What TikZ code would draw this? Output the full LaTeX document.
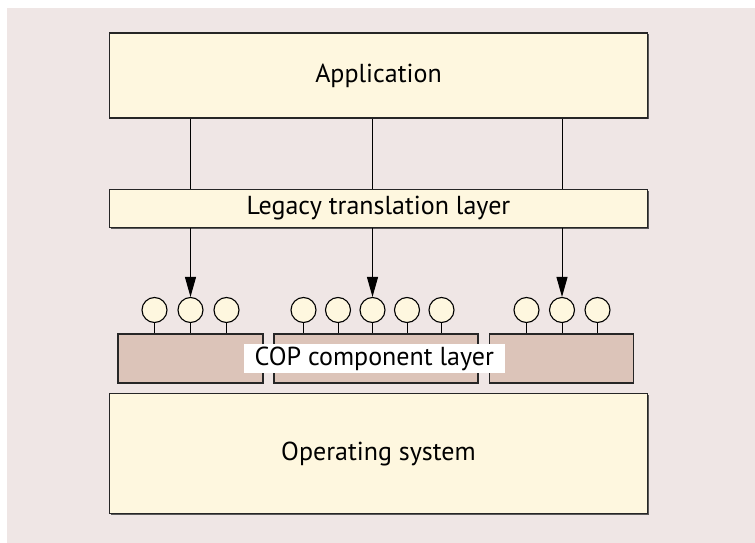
\documentclass[tikz,border=0pt]{standalone}
\usepackage{fontspec}
\setmainfont{PT Sans}
\usetikzlibrary{arrows.meta,shadows}
\definecolor{bgpink}{HTML}{EFE6E5}
\definecolor{boxyellow}{HTML}{FEF7DF}
\definecolor{copbrown}{HTML}{DCC4B9}
\tikzset{
  layer/.style={draw=black!85,line width=1.2pt,fill=boxyellow,inner sep=0pt,
    drop shadow={shadow xshift=1pt,shadow yshift=-1pt,fill=black!65,opacity=1},
    font=\fontsize{26}{30}\selectfont},
  copbox/.style={draw=black!85,line width=1.2pt,fill=copbrown,inner sep=0pt},
  iface/.style={circle,draw=black,line width=1.1pt,fill=boxyellow,minimum size=25pt,inner sep=0pt},
  link/.style={line width=1pt}
}
\begin{document}
\begin{tikzpicture}[x=1pt,y=-1pt]
  % Hintergrund
  \useasboundingbox (0,0) rectangle (755,543);
  \fill[white] (0,0) rectangle (755,543);
  \fill[bgpink] (7,8) rectangle (755,543);
  % Schichten
  \node[layer,minimum width=538pt,minimum height=85pt] (app) at (378.5,75.5) {Application};
  \node[layer,minimum width=538pt,minimum height=38pt] (legacy) at (378.5,208.5) {Legacy translation layer};
  \node[layer,minimum width=538pt,minimum height=120pt] (os) at (378.5,453.5) {Operating system};
  % Komponenten
  \node[copbox,minimum width=145pt,minimum height=49pt] (cop1) at (190.5,358.5) {};
  \node[copbox,minimum width=204pt,minimum height=49pt] (cop2) at (376,358.5) {};
  \node[copbox,minimum width=144pt,minimum height=49pt] (cop3) at (561.5,358.5) {};
  \node[fill=white,minimum width=261pt,minimum height=29.5pt,inner sep=0pt,
    font=\fontsize{26}{30}\selectfont] (coplabel) at (374.3,358.7) {COP component layer};
  % Schnittstellen
  \foreach \x [count=\i] in {154.5,190.5,226.5} {
    \node[iface] (a\i) at (\x,310) {};
    \draw[link] (a\i.south) -- (a\i.south |- cop1.north);
  }
  \foreach \x [count=\i] in {303.5,338,372.5,407,441.5} {
    \node[iface] (b\i) at (\x,310) {};
    \draw[link] (b\i.south) -- (b\i.south |- cop2.north);
  }
  \foreach \x [count=\i] in {526.5,562,597.5} {
    \node[iface] (c\i) at (\x,310) {};
    \draw[link] (c\i.south) -- (c\i.south |- cop3.north);
  }
  % Linien, Pfeile
  \foreach \n in {a2,b3,c2} {
    \draw[link] (app.south -| \n) -- (legacy.north -| \n);
    \draw[link,-{Triangle[length=20pt,width=11pt]}] (legacy.south -| \n) -- (\n.north);
  }
\end{tikzpicture}
\end{document}
